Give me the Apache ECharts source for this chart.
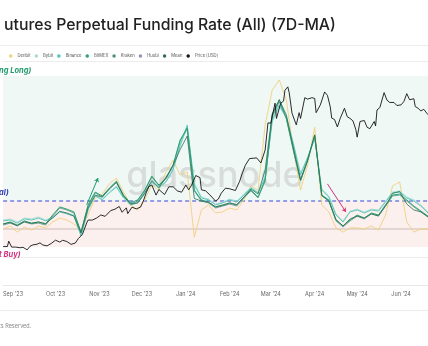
<!DOCTYPE html>
<html>
<head>
<meta charset="utf-8">
<script src="https://cdn.jsdelivr.net/npm/echarts@6/dist/echarts.min.js"></script>
<style>html,body{margin:0;padding:0;background:#fff}#c{width:428px;height:346px}</style>
</head>
<body>
<div id="c"></div>
<script>
// ---- data ----
const fundingDates = ['2023-08-25','2023-08-30','2023-09-04','2023-09-09','2023-09-14','2023-09-19','2023-09-24','2023-09-29','2023-10-04','2023-10-09','2023-10-14','2023-10-19','2023-10-24','2023-10-29','2023-11-03','2023-11-08','2023-11-13','2023-11-18','2023-11-23','2023-11-28','2023-12-03','2023-12-08','2023-12-13','2023-12-18','2023-12-23','2023-12-28','2024-01-02','2024-01-07','2024-01-12','2024-01-17','2024-01-22','2024-01-27','2024-02-01','2024-02-06','2024-02-11','2024-02-16','2024-02-21','2024-02-26','2024-03-02','2024-03-07','2024-03-12','2024-03-17','2024-03-22','2024-03-27','2024-04-01','2024-04-06','2024-04-11','2024-04-16','2024-04-21','2024-04-26','2024-05-01','2024-05-06','2024-05-11','2024-05-16','2024-05-21','2024-05-26','2024-05-31','2024-06-05','2024-06-10','2024-06-15','2024-06-20'];
const deribit = [0,0.0011,-0.0011,0.0007,-0.0004,0.0011,0.0004,0.0025,0.0039,0.0032,0.0018,-0.0004,0.0050,0.0111,0.0125,0.0161,0.0182,0.0132,0.0086,0.0068,0.0104,0.0157,0.0139,0.0204,0.0246,0.0193,0.0204,-0.0029,0.0068,0.0086,0.0057,0.0061,0.0075,0.0068,0.0104,0.0154,0.0139,0.0371,0.0496,0.0532,0.0461,0.0282,0.0139,0.0229,0.0364,0.0086,0.0061,0.0004,-0.0011,0.0004,0.0004,0,0.0011,-0.0004,0.0050,0.0154,0.0168,0.0025,-0.0011,0,0];
const bybit = [0.0032,0.0036,0.0025,0.0039,0.0036,0.0043,0.0032,0.0043,0.0064,0.0057,0.0050,-0.0018,0.0071,0.0121,0.0107,0.0132,0.0154,0.0114,0.0089,0.0096,0.0129,0.0171,0.0150,0.0171,0.0214,0.0296,0.0364,0.0164,0.0114,0.0107,0.0089,0.0096,0.0107,0.0100,0.0125,0.0150,0.0132,0.0186,0.0382,0.0436,0.0400,0.0307,0.0200,0.0257,0.0321,0.0143,0.0118,0.0054,0.0029,0.0064,0.0071,0.0061,0.0071,0.0068,0.0100,0.0132,0.0136,0.0114,0.0104,0.0086,0.0061];
const binance = [0.0029,0.0032,0.0021,0.0036,0.0032,0.0039,0.0029,0.0039,0.0061,0.0054,0.0046,-0.0025,0.0068,0.0118,0.0104,0.0129,0.0150,0.0111,0.0086,0.0093,0.0125,0.0168,0.0146,0.0168,0.0211,0.0300,0.0371,0.0157,0.0111,0.0104,0.0086,0.0093,0.0104,0.0096,0.0121,0.0146,0.0129,0.0182,0.0389,0.0443,0.0396,0.0300,0.0193,0.0254,0.0325,0.0139,0.0114,0.0050,0.0025,0.0061,0.0068,0.0057,0.0068,0.0064,0.0096,0.0129,0.0132,0.0111,0.0100,0.0082,0.0057];
const bitmex = [0.0018,0.0025,0.0014,0.0029,0.0021,0.0025,0.0018,0.0050,0.0079,0.0071,0.0061,-0.0011,0.0086,0.0132,0.0118,0.0146,0.0171,0.0121,0.0093,0.0104,0.0139,0.0189,0.0157,0.0182,0.0229,0.0318,0.0361,0.0139,0.0104,0.0096,0.0079,0.0086,0.0093,0.0086,0.0114,0.0139,0.0114,0.0175,0.0407,0.0461,0.0396,0.0282,0.0175,0.0246,0.0336,0.0121,0.0104,0.0032,0.0011,0.0032,0.0050,0.0039,0.0057,0.0050,0.0086,0.0121,0.0125,0.0104,0.0082,0.0064,0.0046];
const kraken = [0.0014,0.0021,0.0011,0.0025,0.0018,0.0021,0.0014,0.0046,0.0075,0.0068,0.0057,-0.0014,0.0082,0.0129,0.0114,0.0143,0.0168,0.0118,0.0089,0.0100,0.0136,0.0186,0.0154,0.0179,0.0225,0.0314,0.0357,0.0136,0.0100,0.0093,0.0075,0.0082,0.0089,0.0082,0.0111,0.0136,0.0111,0.0171,0.0400,0.0454,0.0393,0.0279,0.0171,0.0243,0.0332,0.0118,0.0100,0.0029,0.0007,0.0029,0.0046,0.0036,0.0054,0.0046,0.0082,0.0118,0.0121,0.0100,0.0079,0.0061,0.0043];
const huobiDates = ['2023-08-25','2024-06-20'];
const huobi = [0,0];
const mean = [0.0018,0.0023,0.0012,0.0026,0.0020,0.0025,0.0019,0.0040,0.0063,0.0057,0.0046,-0.0014,0.0075,0.0121,0.0114,0.0143,0.0166,0.0118,0.0089,0.0093,0.0129,0.0173,0.0148,0.0184,0.0227,0.0284,0.0332,0.0109,0.0100,0.0096,0.0079,0.0084,0.0093,0.0087,0.0114,0.0143,0.0125,0.0211,0.0411,0.0462,0.0407,0.0290,0.0175,0.0246,0.0336,0.0121,0.0100,0.0034,0.0011,0.0036,0.0046,0.0039,0.0054,0.0047,0.0082,0.0127,0.0134,0.0089,0.0068,0.0061,0.0043];
const priceDates = ['2023-08-25','2023-08-28','2023-08-29','2023-08-31','2023-09-03','2023-09-06','2023-09-08','2023-09-11','2023-09-13','2023-09-15','2023-09-18','2023-09-20','2023-09-22','2023-09-25','2023-09-28','2023-10-01','2023-10-04','2023-10-06','2023-10-09','2023-10-12','2023-10-15','2023-10-17','2023-10-20','2023-10-23','2023-10-24','2023-10-27','2023-10-30','2023-11-02','2023-11-05','2023-11-09','2023-11-12','2023-11-15','2023-11-17','2023-11-20','2023-11-21','2023-11-24','2023-11-27','2023-11-30','2023-12-02','2023-12-04','2023-12-06','2023-12-08','2023-12-11','2023-12-13','2023-12-17','2023-12-20','2023-12-23','2023-12-26','2023-12-29','2024-01-01','2024-01-03','2024-01-05','2024-01-08','2024-01-11','2024-01-12','2024-01-15','2024-01-18','2024-01-22','2024-01-24','2024-01-26','2024-01-29','2024-02-01','2024-02-05','2024-02-08','2024-02-10','2024-02-12','2024-02-15','2024-02-18','2024-02-20','2024-02-23','2024-02-26','2024-02-28','2024-03-01','2024-03-04','2024-03-05','2024-03-08','2024-03-10','2024-03-11','2024-03-13','2024-03-14','2024-03-16','2024-03-19','2024-03-21','2024-03-22','2024-03-25','2024-03-27','2024-03-30','2024-04-01','2024-04-02','2024-04-05','2024-04-08','2024-04-10','2024-04-12','2024-04-13','2024-04-15','2024-04-17','2024-04-19','2024-04-22','2024-04-24','2024-04-26','2024-04-28','2024-04-30','2024-05-01','2024-05-03','2024-05-06','2024-05-08','2024-05-10','2024-05-13','2024-05-14','2024-05-15','2024-05-17','2024-05-20','2024-05-22','2024-05-24','2024-05-27','2024-05-29','2024-06-01','2024-06-03','2024-06-05','2024-06-07','2024-06-10','2024-06-11','2024-06-13','2024-06-15','2024-06-17','2024-06-20'];
const price = [26100,26100,27700,25950,25950,25750,25900,25150,26200,26600,26800,27200,26580,26300,27030,27980,27430,27950,27600,26760,27150,28400,29700,33050,33900,33900,34500,35400,35000,36700,37100,37900,36200,37500,35800,37700,37200,37700,39500,41900,43800,44200,41250,42900,41400,43700,43700,42500,42100,44200,42800,44100,47000,46400,42800,42500,41300,39500,40100,41800,43300,43100,42600,45300,47800,50000,52000,52100,52200,50700,54500,62500,62400,68300,63800,68300,68900,72100,73100,71400,65300,61900,65500,63800,69900,69500,69900,69700,65500,67800,71600,70600,67200,63900,63500,61300,63800,66800,64300,63800,63100,60600,58300,62900,63200,61200,60800,62900,61600,66300,67000,71400,69200,68500,68500,67600,67800,68800,71100,69300,69600,67300,66800,66000,66500,64900];
const seriesNames = ['Deribit','Bybit','Binance','BitMEX','Kraken','Huobi','Mean','Price [USD]'];
const monthLabelFmt = "{MMM} '{yy}";
const neutralDates = ['2023-08-25','2024-06-20'];
const neutralLevel = [0.01, 0.01];
const longBandTop = 0.0546;
const buyBandBottom = -0.0064;
const greenArrow = [['2023-10-23', 0.0086], ['2023-10-31', 0.0182]];
const pinkArrow = [['2024-04-10', 0.0161], ['2024-04-23', 0.0061]];

// ---- chart ----
const zip = (d, v) => d.map((x, i) => [x, v[i]]);
const chart = echarts.init(document.getElementById('c'), null, {renderer: 'canvas'});
const FONT = 'Inter, "Noto Sans", sans-serif';
function fl(name, data, color, z, w) {
  return {name, type: 'line', yAxisIndex: 0, data: zip(fundingDates, data), showSymbol: false, symbol: 'circle',
    lineStyle: {color, width: w || 0.9}, itemStyle: {color}, z: z || 5, silent: true, animation: false};
}
chart.setOption({
  animation: false,
  backgroundColor: '#fff',
  title: {text: 'utures Perpetual Funding Rate (All) (7D-MA)', left: -1, top: 12,
    textStyle: {fontFamily: FONT, fontSize: 15.8, fontWeight: 500, color: '#222'}},
  legend: {left: 4, top: 49, icon: 'circle', itemWidth: 3.5, itemHeight: 3.5, itemGap: 4,
    textStyle: {fontFamily: FONT, fontSize: 4.2, color: '#555'}, data: seriesNames},
  grid: {left: 0, right: 0, top: 61, bottom: 61, containLabel: false},
  xAxis: {type: 'time', min: '2023-08-25', max: '2024-06-20', splitNumber: 10,
    axisLine: {show: true, onZero: false, lineStyle: {color: '#e8e8e8'}}, axisTick: {show: false}, splitLine: {show: false},
    axisLabel: {formatter: monthLabelFmt, fontFamily: FONT, fontSize: 5.5, color: '#666', margin: 6, hideOverlap: false}},
  yAxis: [
    {type: 'value', min: -0.02, max: 0.06, interval: 0.01, axisLabel: {show: false}, axisLine: {show: false}, axisTick: {show: false},
      splitLine: {lineStyle: {color: '#ececec', width: 1}}},
    {type: 'value', min: 14800, max: 80700, axisLabel: {show: false}, axisLine: {show: false}, axisTick: {show: false}, splitLine: {show: false}}
  ],
  graphic: [
    {type: 'line', shape: {x1: 0, y1: 45.5, x2: 428, y2: 45.5}, style: {stroke: '#ececec', lineWidth: 1}, z: 1},
    {type: 'line', shape: {x1: 0, y1: 310.5, x2: 428, y2: 310.5}, style: {stroke: '#ececec', lineWidth: 1}, z: 1},
    {type: 'text', x: 215, y: 176, style: {text: 'glassnode', font: '500 36px ' + FONT, fill: 'rgba(165,165,165,0.32)', textAlign: 'center', textVerticalAlign: 'middle'}, z: 3},
    {type: 'text', x: -1, y: 71, style: {text: 'ng Long)', font: 'italic bold 7.5px ' + FONT, fill: '#1f9a6c', textVerticalAlign: 'middle'}, z: 10},
    {type: 'text', x: -1, y: 193, style: {text: 'al)', font: 'italic bold 7.5px ' + FONT, fill: '#2d3bb5', textVerticalAlign: 'middle'}, z: 10},
    {type: 'text', x: -1, y: 255, style: {text: 't Buy)', font: 'italic bold 7.5px ' + FONT, fill: '#d3317e', textVerticalAlign: 'middle'}, z: 10},
    {type: 'text', x: -1, y: 326, style: {text: 'ts Reserved.', font: '5.5px ' + FONT, fill: '#888', textVerticalAlign: 'middle'}, z: 10}
  ],
  series: [
    fl('Deribit', deribit, '#f1cf7e', 5, 0.9),
    fl('Bybit', bybit, '#9fded3', 5, 0.9),
    fl('Binance', binance, '#4fc2bb', 6, 0.9),
    fl('BitMEX', bitmex, '#2aa36f', 6, 1),
    fl('Kraken', kraken, '#4f8f84', 5, 0.8),
    {name: 'Huobi', type: 'line', yAxisIndex: 0, data: zip(huobiDates, huobi), showSymbol: false, symbol: 'circle',
      lineStyle: {color: '#cbbcb6', width: 1}, itemStyle: {color: '#9a8fb3'}, z: 2, silent: true,
      markArea: {silent: true, itemStyle: {opacity: 1}, data: [
        [{yAxis: 0.01, itemStyle: {color: '#f0f8f5'}}, {yAxis: longBandTop}],
        [{yAxis: buyBandBottom, itemStyle: {color: '#fcf0ee'}}, {yAxis: 0.01}]
      ]}},
    {name: 'neutral', type: 'line', yAxisIndex: 0, data: zip(neutralDates, neutralLevel), showSymbol: false,
      lineStyle: {color: '#3446d6', type: [4, 3], width: 1.2}, itemStyle: {color: '#3446d6'}, z: 4, silent: true},
    Object.assign(fl('Mean', mean, '#2d6e55', 6, 0.8), {
      markLine: {silent: true, animation: false, label: {show: false}, symbol: ['none', 'arrow'], symbolSize: 4,
        lineStyle: {type: 'solid', width: 1, opacity: 1},
        data: [
          [{coord: greenArrow[0], lineStyle: {color: '#1f9a6c'}, itemStyle: {color: '#1f9a6c'}}, {coord: greenArrow[1]}],
          [{coord: pinkArrow[0], lineStyle: {color: '#d3317e'}, itemStyle: {color: '#d3317e'}}, {coord: pinkArrow[1]}]
        ]}
    }),
    {name: 'Price [USD]', type: 'line', yAxisIndex: 1, data: zip(priceDates, price), showSymbol: false, symbol: 'circle',
      lineStyle: {color: '#141414', width: 0.9}, itemStyle: {color: '#141414'}, z: 8, silent: true}
  ]
});
</script>
</body>
</html>
